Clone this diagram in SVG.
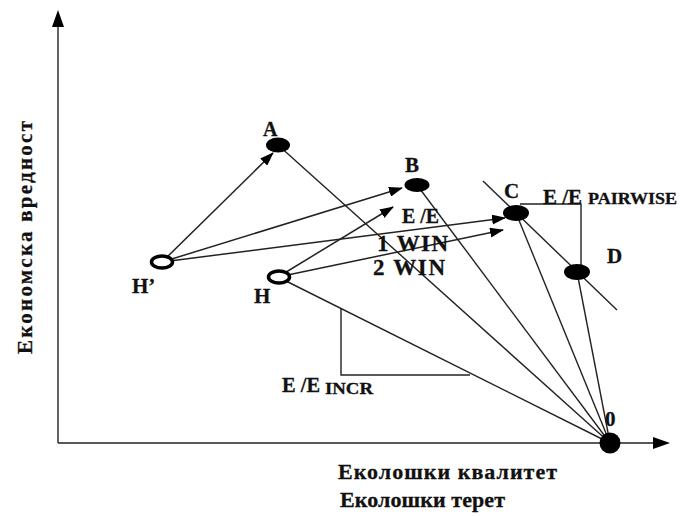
<svg xmlns="http://www.w3.org/2000/svg" width="680" height="517" viewBox="0 0 680 517">
<style>
.t{font-family:"Liberation Serif","Times New Roman",serif;font-weight:bold;fill:#111;stroke:#111;stroke-width:0.3}
.l{stroke:#222;stroke-width:1.4;fill:none}
.a{stroke:#222;stroke-width:1.5;fill:none;marker-end:url(#ah)}
.f{fill:#000}
.r{fill:#fff;stroke:#000;stroke-width:3.5}
</style>
<defs>
<marker id="ah" viewBox="0 0 14 10" refX="13" refY="5" markerWidth="14" markerHeight="10" markerUnits="userSpaceOnUse" orient="auto">
<path d="M0,0 L14,5 L0,10 Z" fill="#000"/>
</marker>
</defs>
<rect width="680" height="517" fill="#fff"/>
<g id="axes">
<line class="l" x1="58" y1="443" x2="58" y2="24"/>
<path d="M58,10 L64,27 L52,27 Z" fill="#000"/>
<line class="l" x1="58" y1="443" x2="656" y2="443"/>
<path d="M670,443 L653,449 L653,437 Z" fill="#000"/>
<text class="t" font-size="21" transform="translate(32,354) rotate(-90)" textLength="233" lengthAdjust="spacing">Економска вредност</text>
<text class="t" font-size="22" x="338" y="479" textLength="219" lengthAdjust="spacing">Еколошки квалитет</text>
<text class="t" font-size="22" x="340" y="507" textLength="165" lengthAdjust="spacing">Еколошки терет</text>
</g>
<g id="connectors">
<line class="l" x1="278" y1="145" x2="610" y2="443"/>
<line class="l" x1="417" y1="185" x2="610" y2="443"/>
<line class="l" x1="516" y1="213" x2="610" y2="443"/>
<line class="l" x1="577" y1="272" x2="610" y2="443"/>
<line class="l" x1="278" y1="277" x2="610" y2="443"/>
<line class="l" x1="483" y1="181" x2="617" y2="310"/>
<polyline class="l" points="520,204 581,204 581,265"/>
<polyline class="l" points="341,308 341,375 470,375"/>
<line class="a" x1="162" y1="262" x2="273" y2="153"/>
<line class="a" x1="162" y1="262" x2="402" y2="188"/>
<line class="a" x1="162" y1="262" x2="505" y2="218"/>
<line class="a" x1="278" y1="277" x2="393" y2="207"/>
<line class="a" x1="278" y1="277" x2="503" y2="230"/>
<text class="t" font-size="21" x="402" y="223" textLength="37" lengthAdjust="spacingAndGlyphs">E /E</text>
<text class="t" font-size="23" x="377" y="251" textLength="71" lengthAdjust="spacing">1 WIN</text>
<text class="t" font-size="23" x="373" y="275" textLength="72" lengthAdjust="spacing">2 WIN</text>
<text class="t" font-size="21" x="543" y="204" textLength="39" lengthAdjust="spacingAndGlyphs">E /E</text>
<text class="t" font-size="16" x="588" y="204" textLength="89" lengthAdjust="spacingAndGlyphs">PAIRWISE</text>
<text class="t" font-size="21" x="282" y="392" textLength="38" lengthAdjust="spacingAndGlyphs">E /E</text>
<text class="t" font-size="16" x="325" y="394" textLength="48" lengthAdjust="spacingAndGlyphs">INCR</text>
</g>
<g id="A"><ellipse class="f" cx="278" cy="145" rx="12" ry="7.5"/><text class="t" font-size="20" x="263" y="136">A</text></g>
<g id="B"><ellipse class="f" cx="417" cy="185" rx="12.5" ry="7"/><text class="t" font-size="21" x="405" y="172">B</text></g>
<g id="C"><ellipse class="f" cx="516" cy="213" rx="13" ry="8"/><text class="t" font-size="21" x="504" y="198">C</text></g>
<g id="D"><ellipse class="f" cx="577" cy="272" rx="13" ry="8"/><text class="t" font-size="21" x="607" y="263">D</text></g>
<g id="Hp"><ellipse class="r" cx="162" cy="262" rx="10.5" ry="6"/><text class="t" font-size="21" x="132" y="293">H’</text></g>
<g id="H"><ellipse class="r" cx="279" cy="277" rx="10.5" ry="6"/><text class="t" font-size="21" x="254" y="303">H</text></g>
<g id="O"><circle class="f" cx="610" cy="443" r="10.5"/><text class="t" font-size="21" x="605" y="426">0</text></g>
</svg>
